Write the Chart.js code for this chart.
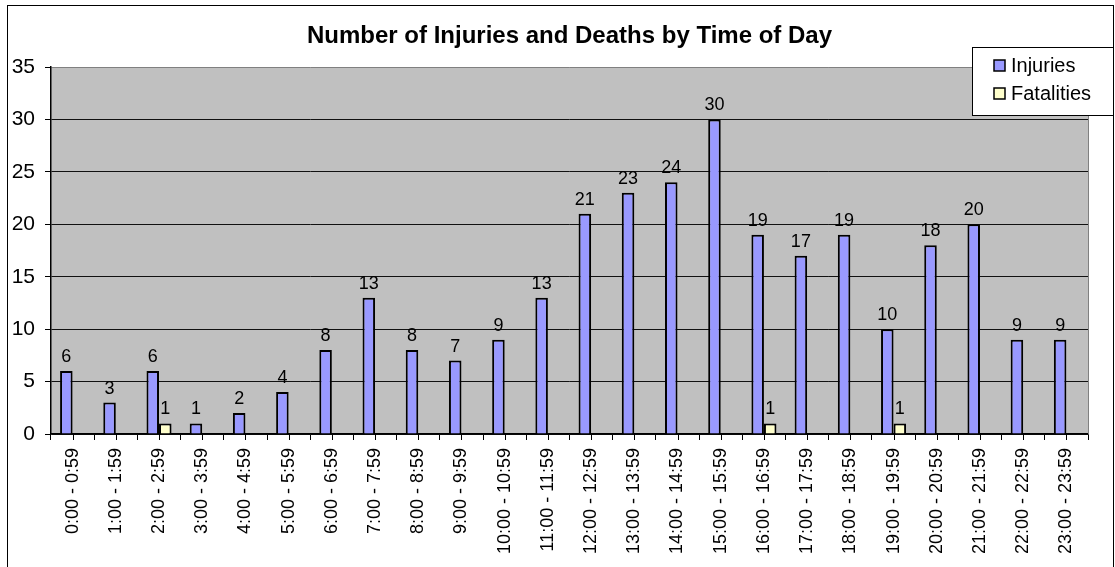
<!DOCTYPE html>
<html>
<head>
<meta charset="utf-8">
<script src="https://cdn.jsdelivr.net/npm/chart.js@4"></script>
<style>
  html, body { margin: 0; padding: 0; background: #fff; }
  #wrap { width: 1115px; height: 567px; position: relative; }
</style>
</head>
<body>
<div id="wrap"><canvas id="chart" width="1115" height="567"></canvas></div>
<script>
// hour ranges
const hours = ['0:00 - 0:59', '1:00 - 1:59', '2:00 - 2:59', '3:00 - 3:59', '4:00 - 4:59', '5:00 - 5:59',
  '6:00 - 6:59', '7:00 - 7:59', '8:00 - 8:59', '9:00 - 9:59', '10:00 - 10:59', '11:00 - 11:59',
  '12:00 - 12:59', '13:00 - 13:59', '14:00 - 14:59', '15:00 - 15:59', '16:00 - 16:59', '17:00 - 17:59',
  '18:00 - 18:59', '19:00 - 19:59', '20:00 - 20:59', '21:00 - 21:59', '22:00 - 22:59', '23:00 - 23:59'];
const injuries = [6, 3, 6, 1, 2, 4, 8, 13, 8, 7, 9, 13, 21, 23, 24, 30, 19, 17, 19, 10, 18, 20, 9, 9];
const fatalities = [0, 0, 1, 0, 0, 0, 0, 0, 0, 0, 0, 0, 0, 0, 0, 0, 1, 0, 0, 1, 0, 0, 0, 0];
const yTicks = [0, 5, 10, 15, 20, 25, 30, 35];
const title = 'Number of Injuries and Deaths by Time of Day';

const FONT = 'Arial, "Liberation Sans", sans-serif';

// grey plot area, outer frame, title, value labels and the legend box
const excelLook = {
  id: 'excelLook',
  beforeDraw(chart) {
    const { ctx, chartArea: a } = chart;
    ctx.save();
    ctx.fillStyle = '#C0C0C0';
    ctx.fillRect(a.left, a.top, a.right - a.left, a.bottom - a.top);
    ctx.strokeStyle = '#000';
    ctx.lineWidth = 1;
    ctx.strokeRect(7.5, 5.5, 1106, 600);
    ctx.restore();
  },
  afterDraw(chart) {
    const { ctx, chartArea: a } = chart;
    const xs = chart.scales.x;
    ctx.save();
    // right edge of plot
    ctx.strokeStyle = '#808080';
    ctx.lineWidth = 1;
    ctx.beginPath();
    ctx.moveTo(Math.round(a.right) + 0.5, a.top);
    ctx.lineTo(Math.round(a.right) + 0.5, a.bottom);
    ctx.stroke();

    // extra tick marks under each category centre
    ctx.strokeStyle = '#000';
    ctx.beginPath();
    hours.forEach((h, i) => {
      const px = Math.round(xs.getPixelForValue(i)) + 0.5;
      ctx.moveTo(px, a.bottom);
      ctx.lineTo(px, a.bottom + 6);
    });
    ctx.stroke();

    // title
    ctx.fillStyle = '#000';
    ctx.font = 'bold 24px ' + FONT;
    ctx.textAlign = 'center';
    ctx.textBaseline = 'middle';
    ctx.fillText(title, (a.left + a.right) / 2, 36);

    // value labels
    ctx.font = '18px ' + FONT;
    ctx.textBaseline = 'bottom';
    chart.data.datasets.forEach((ds, i) => {
      chart.getDatasetMeta(i).data.forEach((bar, j) => {
        const v = ds.data[j];
        if (!v) return;
        ctx.fillText(String(v), bar.x, bar.y - 5);
      });
    });

    // legend
    const lx = 972, ly = 47, lw = 141, lh = 68;
    ctx.fillStyle = '#fff';
    ctx.fillRect(lx, ly, lw, lh);
    ctx.strokeStyle = '#000';
    ctx.strokeRect(lx + 0.5, ly + 0.5, lw, lh);
    ctx.font = '20px ' + FONT;
    ctx.textAlign = 'left';
    ctx.textBaseline = 'middle';
    chart.data.datasets.forEach((ds, i) => {
      const cy = 66 + i * 28;
      ctx.fillStyle = ds.backgroundColor;
      ctx.fillRect(994, cy - 6, 11, 11);
      ctx.strokeStyle = '#000';
      ctx.lineWidth = 1.5;
      ctx.strokeRect(994, cy - 6, 11, 11);
      ctx.fillStyle = '#000';
      ctx.fillText(ds.label, 1011, cy);
    });
    ctx.restore();
  }
};

new Chart(document.getElementById('chart'), {
  type: 'bar',
  data: {
    labels: hours,
    datasets: [
      { label: 'Injuries', data: injuries, backgroundColor: '#9999FF', borderColor: '#000', borderWidth: 2 },
      { label: 'Fatalities', data: fatalities, backgroundColor: '#FFFFCC', borderColor: '#000', borderWidth: 2 }
    ]
  },
  options: {
    responsive: false,
    animation: false,
    events: [],
    layout: { padding: { left: 0, top: 67, right: 27, bottom: 0 } },
    datasets: { bar: { categoryPercentage: 0.58, barPercentage: 1.0 } },
    plugins: { legend: { display: false }, title: { display: false }, tooltip: { enabled: false } },
    scales: {
      x: {
        afterFit(s) { s.height = 133; },
        grid: { display: true, drawOnChartArea: false, offset: true, tickLength: 6, tickColor: '#000' },
        border: { display: true, color: '#000', width: 1.5 },
        ticks: {
          autoSkip: false, maxRotation: 90, minRotation: 90, padding: 8,
          color: '#000', font: { family: FONT, size: 18 }
        }
      },
      y: {
        min: 0, max: 35,
        afterFit(s) { s.width = 51; },
        afterBuildTicks(s) { s.ticks = yTicks.map(v => ({ value: v })); },
        grid: {
          color: ctx => (ctx.tick && ctx.tick.value === 35 ? '#808080' : '#111'),
          tickLength: 6, tickColor: '#000'
        },
        border: { display: true, color: '#000', width: 1.5 },
        ticks: { padding: 10, color: '#000', font: { family: FONT, size: 21 } }
      }
    }
  },
  plugins: [excelLook]
});
</script>
</body>
</html>
